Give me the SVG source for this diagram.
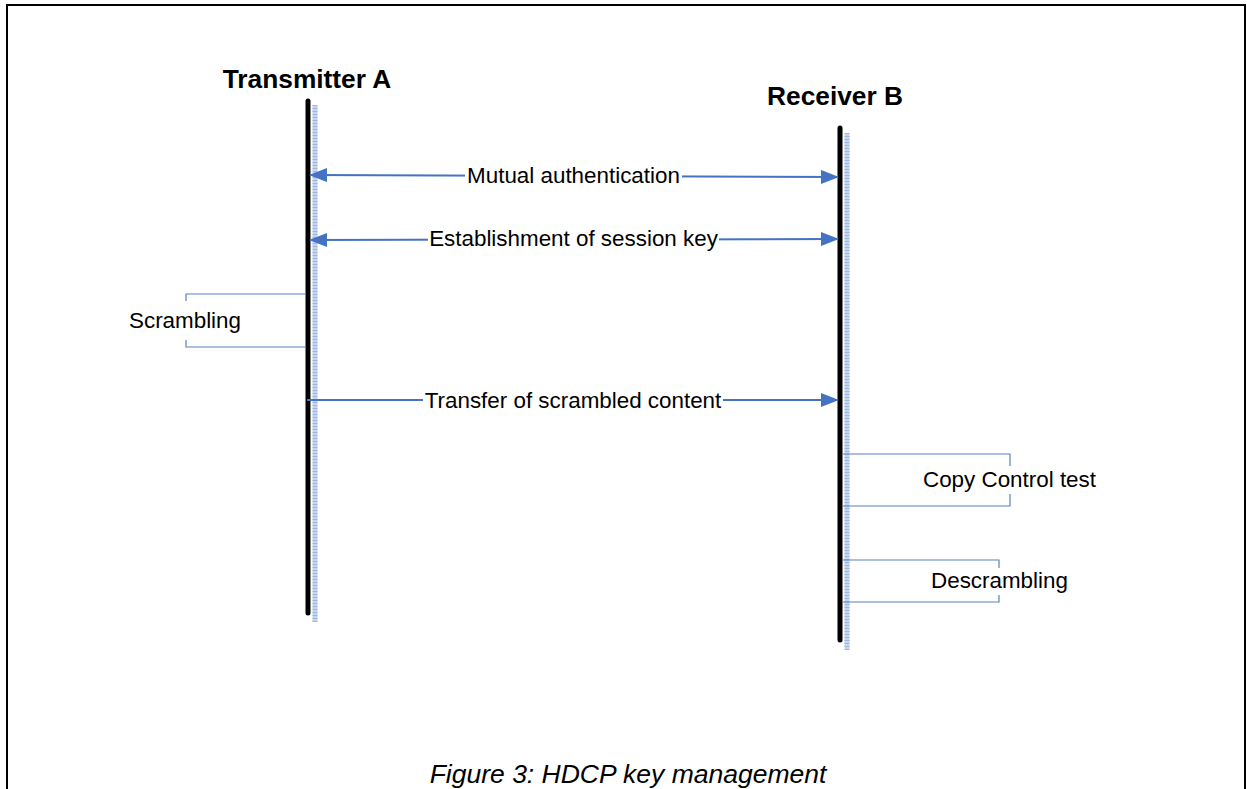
<svg xmlns="http://www.w3.org/2000/svg" width="1247" height="789" viewBox="0 0 1247 789">
<style>
.lbl{font-family:"Liberation Sans",Arial,sans-serif;font-size:22.4px;fill:#000}
.ttl{font-family:"Liberation Sans",Arial,sans-serif;font-size:26.3px;font-weight:bold;fill:#000}
.cap{font-family:"Liberation Sans",Arial,sans-serif;font-size:26.5px;font-style:italic;fill:#000}
.life{stroke:#000;stroke-width:5;stroke-linecap:round;fill:none}
.act{stroke:#c5d5f0;stroke-width:5;fill:none}
.actd{stroke:#9db8e6;stroke-width:5;stroke-dasharray:1 2;fill:none}
.msg{stroke:#4472c4;stroke-width:2;fill:none}
.brk{stroke:#5b80c0;stroke-width:1.2;fill:none}
</style>
<defs>
<marker id="ah" markerWidth="18" markerHeight="14" refX="17" refY="7" orient="auto-start-reverse" markerUnits="userSpaceOnUse">
<path d="M0,0 L18,7 L0,14 Z" fill="#4472c4"/>
</marker>
</defs>
<rect width="1247" height="789" fill="#fff"/>
<path d="M7,789 V5 H1245 V789" fill="none" stroke="#000" stroke-width="2"/>
<g id="transmitter">
<line class="act" x1="315" y1="105" x2="315" y2="622"/>
<line class="actd" x1="315" y1="105" x2="315" y2="622"/>
<line class="life" x1="308" y1="101" x2="308" y2="613"/>
<text class="ttl" x="307" y="88" text-anchor="middle">Transmitter A</text>
</g>
<g id="receiver">
<line class="act" x1="847" y1="133" x2="847" y2="650"/>
<line class="actd" x1="847" y1="133" x2="847" y2="650"/>
<line class="life" x1="840" y1="128" x2="840" y2="640"/>
<text class="ttl" x="835" y="105" text-anchor="middle">Receiver B</text>
</g>
<g id="connectors">
<line class="msg" x1="310" y1="175" x2="838" y2="177" marker-start="url(#ah)" marker-end="url(#ah)"/>
<line class="msg" x1="310" y1="240" x2="838" y2="239" marker-start="url(#ah)" marker-end="url(#ah)"/>
<line class="msg" x1="307" y1="400" x2="838" y2="400" marker-end="url(#ah)"/>
</g>
<g id="msg-labels">
<rect x="465" y="163" width="217" height="24" fill="#fff"/>
<text class="lbl" x="573.5" y="183" text-anchor="middle">Mutual authentication</text>
<rect x="428" y="227" width="291" height="24" fill="#fff"/>
<text class="lbl" x="573.5" y="246" text-anchor="middle">Establishment of session key</text>
<rect x="423" y="388" width="300" height="24" fill="#fff"/>
<text class="lbl" x="573" y="408" text-anchor="middle">Transfer of scrambled content</text>
</g>
<g id="scrambling">
<path class="brk" d="M305,294 H186 V301 M186,340 V347 H305"/>
<text class="lbl" x="185" y="328" text-anchor="middle">Scrambling</text>
</g>
<g id="copy-control">
<path class="brk" d="M842,454 H1010 V466 M1010,494 V506 H842"/>
<text class="lbl" x="1009.5" y="487" text-anchor="middle">Copy Control test</text>
</g>
<g id="descrambling">
<path class="brk" d="M842,560 H999 V568 M999,595 V602 H842"/>
<text class="lbl" x="999.5" y="588" text-anchor="middle">Descrambling</text>
</g>
<text class="cap" x="628" y="783" text-anchor="middle">Figure 3: HDCP key management</text>
</svg>
